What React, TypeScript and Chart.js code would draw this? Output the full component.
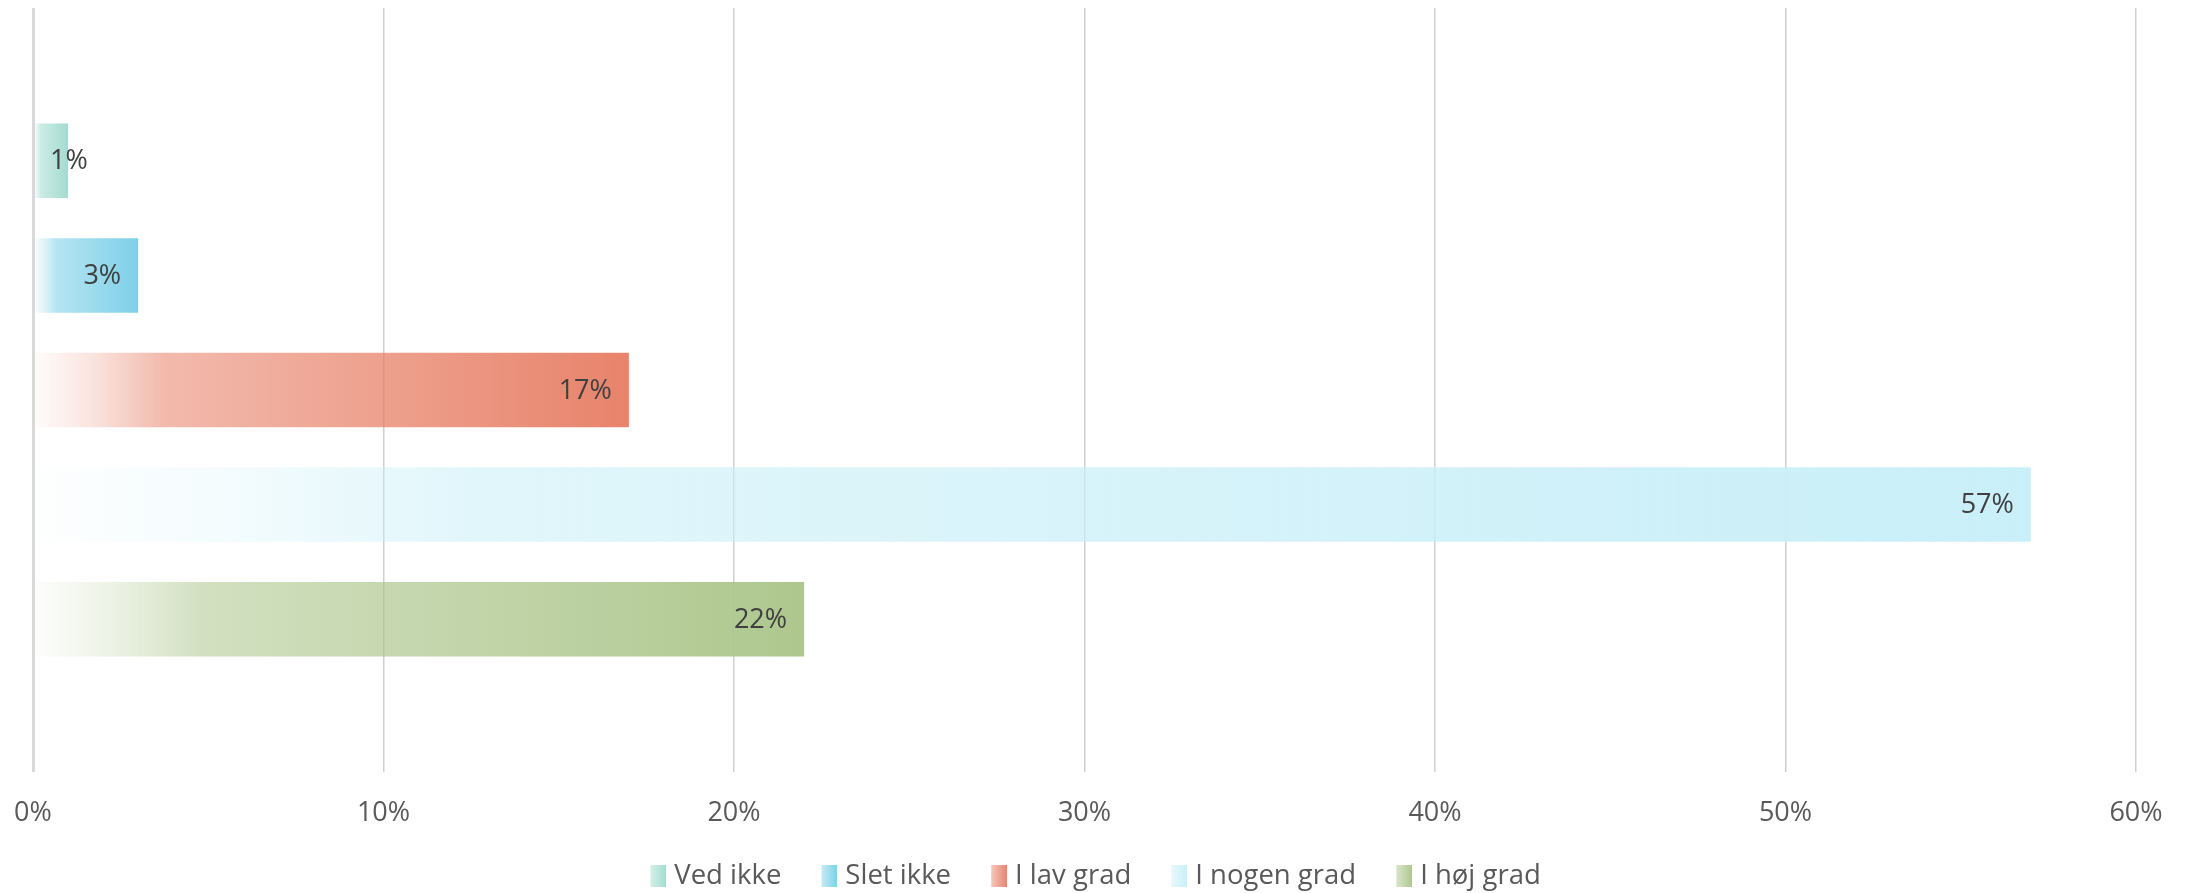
import React, { useEffect, useRef } from 'react';
import { Chart, registerables } from 'chart.js';

Chart.register(...registerables);

const categories = [''];
const seriesNames = ['Ved ikke', 'Slet ikke', 'I lav grad', 'I nogen grad', 'I høj grad'];
const seriesValues = [1, 3, 17, 57, 22];
const seriesColors = ['#A3DCD0', '#7DD0E8', '#E8836B', '#C9EFF8', '#AEC78E'];
const axisMin = 0;
const axisMax = 60;
const axisStep = 10;

const FONT = '"Open Sans", "Noto Sans", sans-serif';
const LEGEND_BOX = 32.25;

function rgba(hex: string, a: number) {
  const n = parseInt(hex.slice(1), 16);
  return `rgba(${(n >> 16) & 255},${(n >> 8) & 255},${n & 255},${a})`;
}

function addStops(g: CanvasGradient, hex: string) {
  g.addColorStop(0, rgba(hex, 0.02));
  g.addColorStop(0.1, rgba(hex, 0.22));
  g.addColorStop(0.22, rgba(hex, 0.56));
  g.addColorStop(1, rgba(hex, 1));
  return g;
}

// legend swatch image: transparent on the left, 16px gradient square at the right end
function swatch(hex: string) {
  const c = document.createElement('canvas');
  const W = 44;
  const H = 22;
  const S = 16;
  c.width = W;
  c.height = H;
  const cx = c.getContext('2d')!;
  const g = cx.createLinearGradient(W - S, 0, W, 0);
  g.addColorStop(0, rgba(hex, 0.45));
  g.addColorStop(1, rgba(hex, 1));
  cx.fillStyle = g;
  cx.fillRect(W - S, 0, S, H);
  return c;
}

const labelPlugin = {
  id: 'barLabels',
  afterDatasetsDraw(chart: any) {
    const ctx = chart.ctx;
    const xs = chart.scales.x;
    const start = xs.getPixelForValue(0);
    ctx.save();
    ctx.font = `27px ${FONT}`;
    ctx.fillStyle = '#404040';
    ctx.textBaseline = 'middle';
    ctx.textAlign = 'left';
    chart.data.datasets.forEach((ds: any, i: number) => {
      const meta = chart.getDatasetMeta(i);
      meta.data.forEach((el: any, j: number) => {
        const text = `${ds.data[j]}%`;
        const w = ctx.measureText(text).width;
        const left = Math.max(el.x - 17 - w, start + 17);
        ctx.fillText(text, left, el.y + 1);
      });
    });
    ctx.restore();
  },
};

export default function App() {
  const ref = useRef<HTMLCanvasElement>(null);

  useEffect(() => {
    document.body.style.margin = '0';
    const canvas = ref.current!;
    const swatches = seriesColors.map(swatch);
    const chart = new Chart(canvas, {
      type: 'bar',
      data: {
        labels: categories,
        datasets: seriesNames.map((name, i) => ({
          label: name,
          data: [seriesValues[i]],
          backgroundColor: (c: any) => {
            const ch = c.chart;
            if (!ch.chartArea || !ch.scales.x) return seriesColors[i];
            const xs = ch.scales.x;
            const x0 = xs.getPixelForValue(0);
            const x1 = xs.getPixelForValue(seriesValues[i]);
            return addStops(ch.ctx.createLinearGradient(x0, 0, x1, 0), seriesColors[i]);
          },
          borderWidth: 0,
          categoryPercentage: 0.75,
          barPercentage: 0.65,
        })),
      },
      options: {
        indexAxis: 'y',
        animation: false,
        responsive: true,
        maintainAspectRatio: false,
        layout: { padding: { top: 8, left: 33, right: 52, bottom: -6.75 } },
        scales: {
          x: {
            min: axisMin,
            max: axisMax,
            border: { display: false },
            grid: {
              drawTicks: false,
              color: (c: any) => (c.index === 0 ? '#D9D9D9' : '#CFCFCF'),
              lineWidth: (c: any) => (c.index === 0 ? 3 : 1.5),
            },
            ticks: {
              stepSize: axisStep,
              padding: 14,
              color: '#595959',
              font: { family: FONT, size: 27, lineHeight: 2.0 },
              callback: (v: any) => `${v}%`,
            },
            afterFit: (scale: any) => {
              scale.height -= 9.75;
            },
          },
          y: { display: false },
        },
        plugins: {
          tooltip: { enabled: false },
          legend: {
            position: 'bottom',
            labels: {
              usePointStyle: true,
              pointStyleWidth: LEGEND_BOX,
              boxHeight: 22,
              padding: 18,
              color: '#595959',
              font: { family: FONT, size: 27.5 },
              generateLabels: (ch: any) =>
                ch.data.datasets.map((ds: any, i: number) => ({
                  text: ds.label,
                  pointStyle: swatches[i],
                  fillStyle: seriesColors[i],
                  strokeStyle: 'transparent',
                  lineWidth: 0,
                  hidden: false,
                  datasetIndex: i,
                  fontColor: '#595959',
                })),
            },
          },
        },
      },
      plugins: [labelPlugin],
    } as any);
    return () => chart.destroy();
  }, []);

  return (
    <div style={{ width: 2188, height: 893, position: 'relative' }}>
      <canvas ref={ref} />
    </div>
  );
}
